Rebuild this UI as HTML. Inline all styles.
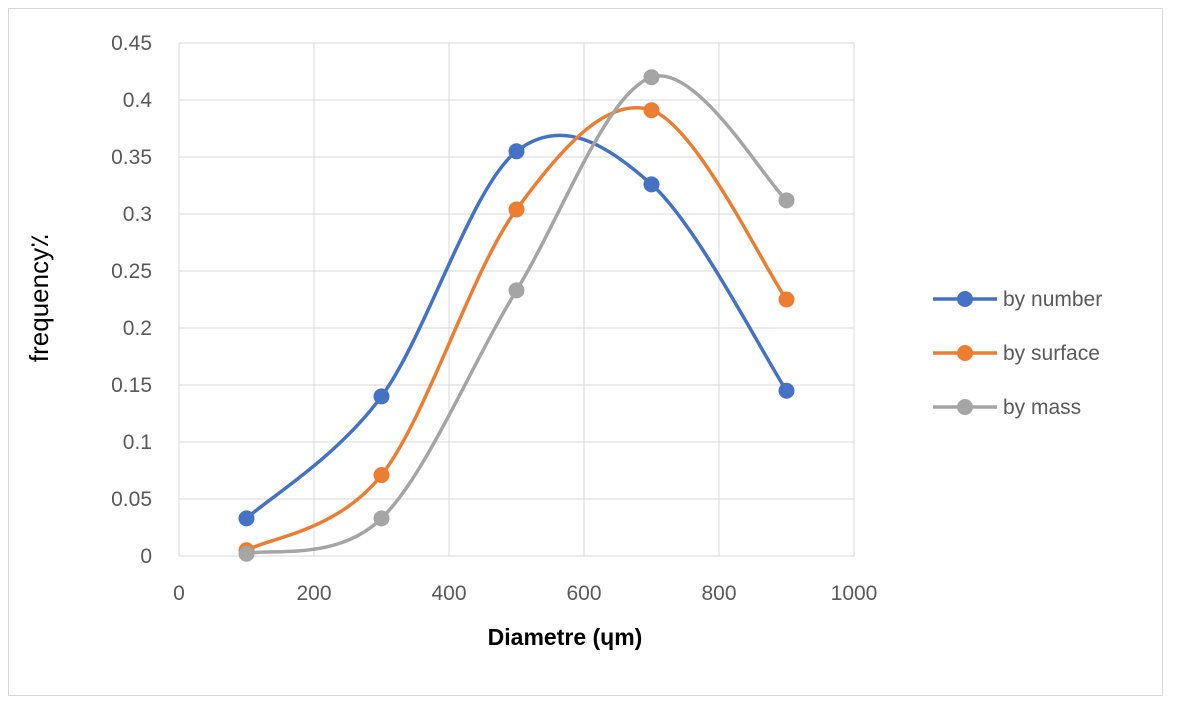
<!DOCTYPE html>
<html><head><meta charset="utf-8"><style>
body{margin:0;background:#fff;}
svg{display:block;font-family:"Liberation Sans",sans-serif;}
</style></head><body>
<svg id="chart" width="1178" height="711">
<rect x="8.5" y="8.5" width="1154" height="687" fill="#fff" stroke="#d9d9d9"/>
<g id="grid"></g><g id="ticks"></g><g id="series"></g>
<text x="565" y="645" text-anchor="middle" font-size="23" font-weight="bold" fill="#000">Diametre (ɥm)</text>
<text transform="translate(48,298) rotate(-90)" text-anchor="middle" font-size="26" fill="#000">frequency٪</text>
<g id="legend"></g>
</svg>
<script>
const xValues=[100,300,500,700,900];
const seriesNames=["by number","by surface","by mass"];
const seriesNumber=[0.033,0.14,0.355,0.326,0.145];
const seriesSurface=[0.005,0.071,0.304,0.391,0.225];
const seriesMass=[0.002,0.033,0.233,0.42,0.312];
const xTicks=[0,200,400,600,800,1000];
const yTicks=[0,0.05,0.1,0.15,0.2,0.25,0.3,0.35,0.4,0.45];
const yTickLabels=["0","0.05","0.1","0.15","0.2","0.25","0.3","0.35","0.4","0.45"];
const colors=["#4472c4","#ed7d31","#a5a5a5"];
const X0=179,X1=854,Y0=556,Y1=43;
const sx=v=>X0+(v-0)/(1000)*(X1-X0);
const sy=v=>Y0-(v/0.45)*(Y0-Y1);
const NS="http://www.w3.org/2000/svg";
function mk(t,a,p){const e=document.createElementNS(NS,t);for(const k in a)e.setAttribute(k,a[k]);p.appendChild(e);return e;}
const grid=document.getElementById('grid'),ticks=document.getElementById('ticks');
xTicks.forEach(t=>{
 const l=mk('line',{x1:sx(t),x2:sx(t),y1:Y1,y2:Y0,stroke:'#d9d9d9','stroke-width':1},grid);
 
 
 const tx=mk('text',{x:sx(t),y:Y0+44,'text-anchor':'middle','font-size':21,fill:'#595959'},ticks);
 tx.textContent=t;
 
 
});
yTicks.forEach((t,i)=>{
 const l=mk('line',{x1:X0,x2:X1,y1:sy(t),y2:sy(t),stroke:'#d9d9d9','stroke-width':1},grid);
 
 
 const tx=mk('text',{x:X0-27,y:sy(t)+7,'text-anchor':'end','font-size':21,fill:'#595959'},ticks);
 tx.textContent=yTickLabels[i];
 
 
});
function smooth(pts){
 let d=`M${pts[0][0]},${pts[0][1]}`;
 for(let i=0;i<pts.length-1;i++){
  const p0=pts[i-1]||pts[i],p1=pts[i],p2=pts[i+1],p3=pts[i+2]||p2;
  const c1=[p1[0]+(p2[0]-p0[0])/6,p1[1]+(p2[1]-p0[1])/6];
  const c2=[p2[0]-(p3[0]-p1[0])/6,p2[1]-(p3[1]-p1[1])/6];
  d+=` C${c1[0]},${c1[1]} ${c2[0]},${c2[1]} ${p2[0]},${p2[1]}`;
 }
 return d;
}
const allSeries=[seriesNumber,seriesSurface,seriesMass];
const sg=document.getElementById('series'),lg=document.getElementById('legend');
allSeries.forEach((s,k)=>{
 const pts=s.map((v,i)=>[sx(xValues[i]),sy(v)]);
 const p=mk('path',{d:smooth(pts),fill:'none',stroke:colors[k],'stroke-width':3.5},sg);
 
 
 pts.forEach(q=>{
  const c=mk('circle',{cx:q[0],cy:q[1],r:8,fill:colors[k]},sg);
  
  
 });
 const ly=299+k*54;
 const ll=mk('line',{x1:933,x2:997,y1:ly,y2:ly,stroke:colors[k],'stroke-width':3.5},lg);
 
 
 const lc=mk('circle',{cx:965,cy:ly,r:8,fill:colors[k]},lg);
 
 
 const lt=mk('text',{x:1003,y:ly+7,'font-size':21,fill:'#595959'},lg);
 lt.textContent=seriesNames[k];
 
 
});
</script>
</body></html>
